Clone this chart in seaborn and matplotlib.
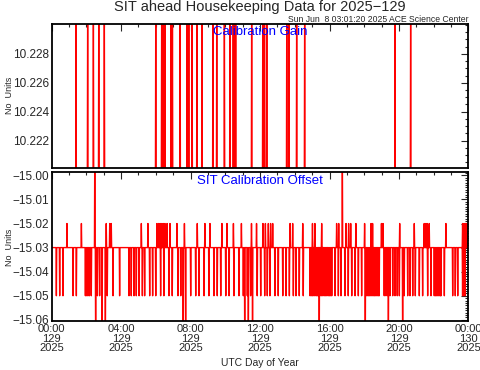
import matplotlib
matplotlib.use("Agg")
import matplotlib.pyplot as plt
from matplotlib.ticker import MultipleLocator, FixedLocator
import pandas as pd
import seaborn as sns

# hours of day 129 (UTC)
hour_ticks = [0, 4, 8, 12, 16, 20, 24]
hour_labels = ['00:00\n129\n2025', '04:00\n129\n2025', '08:00\n129\n2025', '12:00\n129\n2025',
               '16:00\n129\n2025', '20:00\n129\n2025', '00:00\n130\n2025']

# calibration gain toggles between two values, both outside the plotted window
gain_low = 10.2190
gain_high = 10.2312
gain_spikes = [1.41, 2.08, 2.41, 2.72, 3.04, 6.00, 6.34, 6.42, 6.53, 6.88, 6.96, 7.40, 7.80, 7.90,
               8.09, 8.37, 8.66, 9.29, 9.51, 9.95, 10.27, 10.46, 10.53, 10.60, 11.52, 12.16, 12.26,
               12.39, 13.54, 13.67, 14.11, 14.57, 19.77, 20.67]

# calibration offset: baseline with excursions
offset_base = -15.03
offset_up_val = -15.02
offset_up = [0.89, 1.72, 3.15, 3.35, 3.44, 5.17, 5.55, 6.07, 6.17, 6.26, 6.35, 6.44, 6.53, 6.65,
             6.82, 7.22, 7.65, 8.39, 8.83, 9.12, 9.81, 10.10, 10.47, 10.93, 11.51, 11.80, 12.17,
             12.31, 12.48, 12.61, 12.73, 13.73, 13.88, 14.46, 15.02, 15.16, 15.55, 16.41, 16.53,
             16.95, 17.10, 17.22, 17.52, 18.02, 18.39, 18.48, 18.99, 19.08, 20.04, 20.88, 21.45,
             21.55, 21.63, 21.74, 22.70, 23.66, 23.74, 23.82, 23.90, 23.97]
offset_down_val = -15.05
offset_down = [0.28, 0.47, 0.66, 1.24, 1.43, 1.95, 2.03, 2.10, 2.18, 2.29, 2.64, 2.77, 3.21, 3.54,
               3.92, 4.46, 4.59, 4.75, 4.88, 5.04, 5.23, 5.36, 5.65, 5.82, 6.00, 6.28, 6.47, 6.76,
               6.95, 7.28, 7.44, 8.01, 8.30, 8.49, 8.78, 9.06, 9.35, 9.54, 9.74, 10.03, 10.22,
               10.50, 10.79, 11.04, 11.27, 11.46, 11.84, 12.04, 12.27, 12.42, 12.57, 12.86, 13.05,
               13.31, 13.50, 13.69, 13.92, 14.07, 14.26, 14.49, 14.88, 14.95, 15.02, 15.10, 15.17,
               15.25, 15.31, 15.40, 15.46, 15.55, 15.62, 15.70, 15.78, 15.85, 15.93, 16.00, 16.07,
               16.13, 16.32, 16.51, 16.66, 16.89, 17.08, 17.28, 17.47, 17.66, 17.85, 18.10, 18.17,
               18.24, 18.31, 18.38, 18.45, 18.52, 18.59, 18.66, 18.73, 18.80, 18.86, 19.15, 19.25,
               19.37, 19.48, 19.64, 19.77, 19.90, 20.02, 20.30, 20.50, 20.63, 20.79, 20.94, 21.17,
               21.36, 21.65, 21.84, 22.03, 22.10, 22.17, 22.24, 22.31, 22.38, 22.42, 22.61, 23.09,
               23.24, 23.38, 23.66, 23.72, 23.80]
offset_high_val = -14.99
offset_high = [2.49, 16.74]
offset_low_val = -15.07
offset_low = [2.54, 2.91, 3.10, 7.58, 7.72, 11.12, 11.33, 11.57, 15.41, 18.06, 19.39, 20.21]


def spike_series(base, events, half=0.02):
    # turn (time, value) excursions into a line that returns to the baseline
    rows = [(0.0, base)]
    for t, v in sorted(events):
        rows += [(t - half, base), (t, v), (t + half, base)]
    rows.append((24.0, base))
    return pd.DataFrame(rows, columns=['hour', 'value'])


gain_df = spike_series(gain_low, [(t, gain_high) for t in gain_spikes])
offset_events = ([(t, offset_up_val) for t in offset_up] + [(t, offset_down_val) for t in offset_down]
                 + [(t, offset_high_val) for t in offset_high] + [(t, offset_low_val) for t in offset_low])
offset_df = spike_series(offset_base, offset_events)

sns.set_style('white')
plt.rcParams.update({
    'font.family': ['Liberation Sans', 'DejaVu Sans'],
    'axes.linewidth': 1.3,
    'axes.edgecolor': 'black',
    'xtick.direction': 'in', 'ytick.direction': 'in',
    'xtick.top': True, 'ytick.right': True,
    'xtick.major.size': 5, 'ytick.major.size': 5,
    'xtick.minor.size': 2.5, 'ytick.minor.size': 2.5,
    'xtick.major.width': 0.8, 'ytick.major.width': 0.8,
    'xtick.minor.width': 0.8, 'ytick.minor.width': 0.8,
    'axes.unicode_minus': True,
})

fig = plt.figure(figsize=(4.81, 3.70), dpi=100)
ax1 = fig.add_axes([0.1071, 0.5459, 0.8669, 0.3905])
ax2 = fig.add_axes([0.1071, 0.1311, 0.8669, 0.4027])

sns.lineplot(data=gain_df, x='hour', y='value', estimator=None, sort=False,
             color='#ff0000', linewidth=1.0, ax=ax1)
sns.lineplot(data=offset_df, x='hour', y='value', estimator=None, sort=False,
             color='#ff0000', linewidth=1.0, ax=ax2)

for ax in (ax1, ax2):
    ax.set_xlim(0, 24)
    ax.xaxis.set_major_locator(FixedLocator(hour_ticks))
    ax.xaxis.set_minor_locator(MultipleLocator(1))
    ax.set_xlabel('')
    ax.set_ylabel('No  Units', fontsize=6.5)
    ax.tick_params(which='both', top=True, right=True, labelsize=8.5, pad=2)
    ax.tick_params(axis='x', labelsize=8)

ax1.set_ylim(10.2201, 10.2301)
ax1.yaxis.set_major_locator(FixedLocator([10.222, 10.224, 10.226, 10.228]))
ax1.yaxis.set_minor_locator(MultipleLocator(0.0005))
ax1.set_yticklabels(['10.222', '10.224', '10.226', '10.228'])
ax1.set_xticklabels([])

ax2.set_ylim(-15.0607, -14.9988)
offset_ticks = [-15.06, -15.05, -15.04, -15.03, -15.02, -15.01, -15.00]
ax2.yaxis.set_major_locator(FixedLocator(offset_ticks))
ax2.yaxis.set_minor_locator(MultipleLocator(0.001))
ax2.set_yticklabels([f'{v:.2f}'.replace('-', '\u2212') for v in offset_ticks])
ax2.set_xticklabels(hour_labels, linespacing=0.95)

ax1.yaxis.set_label_coords(-0.09, 0.5)
ax2.yaxis.set_label_coords(-0.09, 0.5)

ax1.text(0.5, 0.94, 'Calibration Gain', transform=ax1.transAxes, ha='center', va='center',
         color='#0000ff', fontsize=9.5, zorder=10)
ax2.text(0.5, 0.94, 'SIT Calibration Offset', transform=ax2.transAxes, ha='center', va='center',
         color='#0000ff', fontsize=9.5, zorder=10)

fig.text(0.541, 0.981, 'SIT ahead Housekeeping Data for 2025\u2212129', ha='center', va='center',
         fontsize=10.5)
fig.text(0.974, 0.946, 'Sun Jun  8 03:01:20 2025 ACE Science Center', ha='right', va='center',
         fontsize=6.2)
fig.text(0.541, 0.019, 'UTC Day of Year', ha='center', va='center', fontsize=7.5)

fig.savefig('out.png', dpi=100)
